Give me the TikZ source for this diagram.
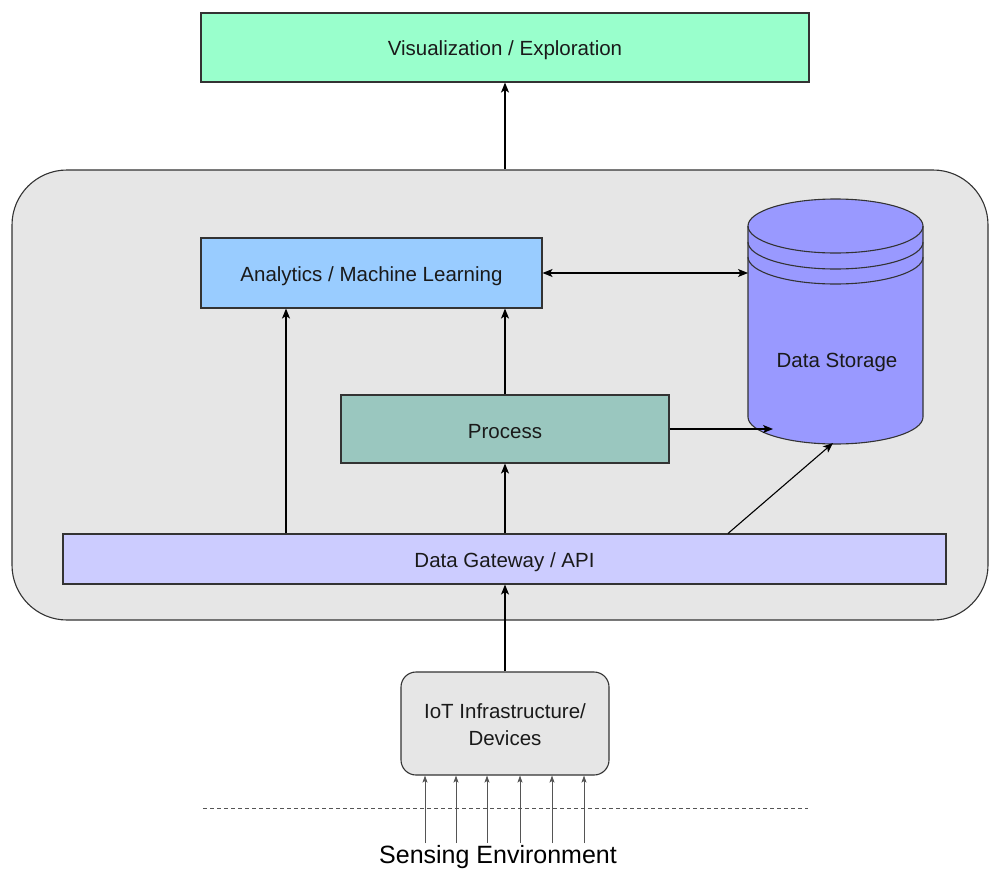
\documentclass[tikz,border=0pt]{standalone}
\usepackage{fontspec}
\setmainfont{Liberation Sans}
\usetikzlibrary{arrows.meta,calc}

\definecolor{edgecol}{HTML}{333333}
\definecolor{txtcol}{HTML}{1A1A1A}
\definecolor{vizfill}{HTML}{99FFCC}
\definecolor{anfill}{HTML}{99CCFF}
\definecolor{procfill}{HTML}{9AC7BF}
\definecolor{dsfill}{HTML}{9999FF}
\definecolor{gwfill}{HTML}{CCCCFF}
\definecolor{corefill}{HTML}{E6E6E6}
\definecolor{sensecol}{HTML}{555555}

% set the ink a little lower than the box's nominal centre
\newcommand\lowered[1]{\raisebox{-3pt}[\height][\depth]{#1}}

\tikzset{
  lbl/.style={font=\fontsize{20.5}{27}\selectfont, text=txtcol, align=center},
  box/.style={draw=edgecol, line width=1.1pt, inner sep=0pt, lbl},
  link/.style={draw=black, line width=1.1pt,
    -{Stealth[length=10pt,width=8pt,inset=2.5pt]}},
  duallink/.style={draw=black, line width=1.1pt,
    {Stealth[length=10pt,width=8pt,inset=2.5pt]}-{Stealth[length=10pt,width=8pt,inset=2.5pt]}},
  senselink/.style={draw=sensecol, line width=0.9pt,
    -{Stealth[length=7pt,width=5pt,inset=1.5pt]}},
}

\begin{document}
\begin{tikzpicture}[x=1pt,y=-1pt]
\useasboundingbox (0,0) rectangle (990,870);

% platform container
\node[box, fill=corefill, rounded corners=55pt, minimum width=976pt,
  minimum height=450pt] (core) at (500,395) {};

% top layer
\node[box, fill=vizfill, minimum width=608pt, minimum height=69pt]
  (viz) at (505,47.5) {\lowered{Visualization / Exploration}};

% inner blocks
\node[box, fill=anfill, minimum width=341pt, minimum height=70pt]
  (an) at (371.5,273) {\lowered{Analytics / Machine Learning}};
\node[box, fill=procfill, minimum width=328pt, minimum height=68pt]
  (proc) at (505,429) {\lowered{Process}};
\node[box, fill=gwfill, minimum width=883pt, minimum height=50pt]
  (gw) at (504.5,559) {\lowered{Data Gateway / API}};

% data storage cylinder
\fill[dsfill] (748,226) -- (748,417) arc[start angle=180, end angle=360,
  x radius=87.5pt, y radius=27pt] -- (923,226) arc[start angle=0,
  end angle=180, x radius=87.5pt, y radius=27pt] -- cycle;
\draw[edgecol, line width=1.1pt] (748,226) -- (748,417) arc[start angle=180,
  end angle=360, x radius=87.5pt, y radius=27pt] -- (923,226);
\draw[edgecol, line width=1.1pt] (835.5,226) ellipse[x radius=87.5pt, y radius=27pt];
\draw[edgecol, line width=1.1pt] (748,242) arc[start angle=180, end angle=360,
  x radius=87.5pt, y radius=27pt];
\draw[edgecol, line width=1.1pt] (748,257) arc[start angle=180, end angle=360,
  x radius=87.5pt, y radius=27pt];
\node[lbl] (ds) at (837,359) {\lowered{Data Storage}};
\coordinate (dsW) at (748,273);
\coordinate (dsSW) at (773,429);
\coordinate (dsS) at (833,443);

% device layer
\node[box, fill=corefill, rounded corners=15pt, minimum width=208pt,
  minimum height=103pt] (iot) at (505,723.5)
  {\lowered{\begin{tabular}{@{}c@{}}IoT Infrastructure/\\Devices\end{tabular}}};

% sensing boundary
\draw[sensecol, line width=0.9pt, dash pattern=on 4pt off 3pt] (203,808) -- (808,808);
\node[font=\fontsize{25}{30}\selectfont, text=black] (env) at (498,857.5) {Sensing Environment};

% connectors
\coordinate (xa) at (286,0);
\coordinate (xg) at (728,0);
\draw[link] (core.north -| viz.south) -- (viz.south);
\draw[link] (gw.north -| proc.south) -- (proc.south);
\draw[link] (gw.north -| xa) -- (an.south -| xa);
\draw[link] (proc.north) -- (an.south -| proc.north);
\draw[link] (proc.east) -- (dsSW);
\draw[link] (gw.north -| xg) -- (dsS);
\draw[duallink] (an.east) -- (dsW);
\draw[link] (iot.north) -- (gw.south -| iot.north);

% sensor inputs
\foreach \x [count=\i] in {425,456,487,520,552,584} {
  \coordinate (s\i) at (\x,843);
  \draw[senselink] (s\i) -- (iot.south -| s\i);
}
\end{tikzpicture}
\end{document}
